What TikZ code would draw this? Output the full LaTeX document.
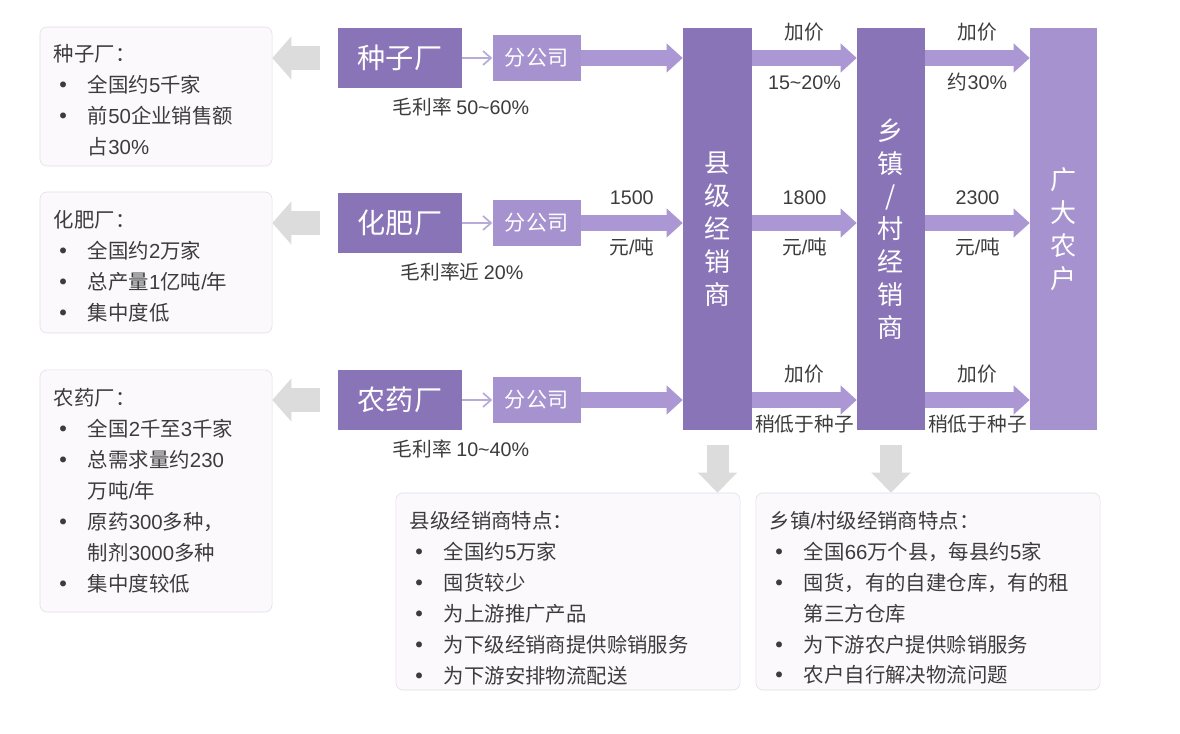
\documentclass[tikz,border=0pt]{standalone}
\usepackage{fontspec}
\setmainfont{Noto Sans CJK SC}
\newfontfamily\latf{Liberation Sans}
\newfontfamily\bulf{DejaVu Sans}
\usepackage{xcolor}
\usepackage{tikz}
\usetikzlibrary{arrows.meta,positioning,calc}
\definecolor{dlpurple}{HTML}{8A74B8}
\definecolor{dllight}{HTML}{A692CF}
\definecolor{dlarrow}{HTML}{AA97D3}
\definecolor{dlthin}{HTML}{B8ABD9}
\definecolor{dlgray}{HTML}{DCDCDC}
\definecolor{dlfill}{HTML}{FBF9FC}
\definecolor{dlline}{HTML}{E2DEE6}
\definecolor{dltext}{HTML}{3C3C3C}
\newcommand{\dg}[1]{{\latf #1}}
\newcommand{\bul}{\makebox[0.85cm][l]{\hspace*{0.08cm}{\bulf •}}}
\newcommand{\cnt}{\hspace*{0.85cm}}
\newcommand{\tstrut}[1]{\rule{0pt}{#1}}
\tikzset{
  dlfactory/.style={fill=dlpurple,text=white,minimum width=3.1cm,minimum height=1.5cm,
    font=\fontsize{20}{24}\selectfont},
  dlbranch/.style={fill=dllight,text=white,minimum width=2.2cm,minimum height=1.125cm,
    font=\fontsize{15}{18}\selectfont},
  dlbar/.style={fill=dlpurple,text=white,minimum height=10.05cm,align=center,
    font=\fontsize{18.5}{23.4}\selectfont},
  dlinfo/.style={draw=dlline,fill=dlfill,rounded corners=5pt,align=left,inner xsep=0.35cm,
    text=dltext,font=\fontsize{14.5}{22}\selectfont},
  dllab/.style={text=dltext,inner sep=0pt,outer sep=0pt,text height=11pt,text depth=2pt,
    font=\fontsize{14}{16}\selectfont},
  dlflow/.style={draw=dlarrow,line width=0.4cm,-{Triangle[length=0.4cm,width=0.7cm]}},
  dlthinarr/.style={draw=dlthin,line width=1.2pt,-{Straight Barb[length=2mm,width=3.5mm]}},
  dlback/.style={draw=dlgray,line width=0.6cm,-{Triangle[length=0.475cm,width=1.05cm]}},
  dldown/.style={draw=dlgray,line width=0.55cm,-{Triangle[length=0.5cm,width=0.95cm]}},
}
\begin{document}
\begin{tikzpicture}[x=0.025cm,y=-0.025cm,node distance=0.75cm]
\useasboundingbox[fill=white] (0,0) rectangle (1180,734);
\node[dlinfo,minimum height=3.475cm,text width=5.1cm] (info1) at (156,96.5)
  {\tstrut{0.6cm}种子厂：\\\bul 全国约\dg{5}千家\\\bul 前\dg{50}企业销售额\\\cnt 占\dg{30\%}};
\node[dlinfo,minimum height=3.525cm,text width=5.1cm] (info2) at (156,262.5)
  {\tstrut{0.6cm}化肥厂：\\\bul 全国约\dg{2}万家\\\bul 总产量\dg{1}亿吨\dg{/}年\\\bul 集中度低};
\node[dlinfo,minimum height=6.05cm,text width=5.1cm] (info3) at (156,491)
  {农药厂：\\\bul 全国\dg{2}千至\dg{3}千家\\\bul 总需求量约\dg{230}\\\cnt 万吨\dg{/}年\\\bul 原药\dg{300}多种，\\\cnt 制剂\dg{3000}多种\\\bul 集中度较低};
\node[dlfactory] (zhong) at (400,58) {种子厂};
\node[dlfactory] (fei) at (400,223) {化肥厂};
\node[dlfactory] (yao) at (400,400) {农药厂};
\node[dlbranch,right=of zhong] (fen1) {分公司};
\node[dlbranch,right=of fei] (fen2) {分公司};
\node[dlbranch,right=of yao] (fen3) {分公司};
\node[dllab] (mao1) at (461,108) {毛利率 \dg{50\textasciitilde60\%}};
\node[dllab] (mao2) at (462,273) {毛利率近 \dg{20\%}};
\node[dllab] (mao3) at (461,450) {毛利率 \dg{10\textasciitilde40\%}};
\node[dlbar,minimum width=1.725cm] (xian) at (717.5,229) {县\\级\\经\\销\\商};
\node[dlbar,minimum width=1.7cm] (xiang) at (891,229) {乡\\镇\\/\\村\\经\\销\\商};
\node[dlbar,fill=dllight,minimum width=1.675cm] (nong) at (1063.5,229) {广\\大\\农\\户};
\node[dlinfo,minimum height=4.925cm,text width=7.9cm] (tese1) at (568,591.5)
  {\tstrut{0.75cm}县级经销商特点：\\\bul 全国约\dg{5}万家\\\bul 囤货较少\\\bul 为上游推广产品\\\bul 为下级经销商提供赊销服务\\\bul 为下游安排物流配送};
\node[dlinfo,minimum height=4.925cm,text width=7.9cm] (tese2) at (928,591.5)
  {\tstrut{0.75cm}乡镇\dg{/}村级经销商特点：\\\bul 全国\dg{66}万个县，每县约\dg{5}家\\\bul 囤货，有的自建仓库，有的租\\\cnt 第三方仓库\\\bul 为下游农户提供赊销服务\\\bul 农户自行解决物流问题};
\draw[dlback] ([xshift=-0.45cm]zhong.west) -- (zhong.west -| info1.east);
\draw[dlback] ([xshift=-0.45cm]fei.west) -- (fei.west -| info2.east);
\draw[dlback] ([xshift=-0.45cm]yao.west) -- (yao.west -| info3.east);
\draw[dlthinarr] (zhong) -- (fen1);
\draw[dlthinarr] (fei) -- (fen2);
\draw[dlthinarr] (yao) -- (fen3);
\draw[dlflow] (fen1) -- (fen1 -| xian.west);
\draw[dlflow] (fen2) -- node[dllab,above=0.4cm] (p1500) {\dg{1500}}
  node[dllab,below=0.4cm] (u1500) {元\dg{/}吨} (fen2 -| xian.west);
\draw[dlflow] (fen3) -- (fen3 -| xian.west);
\draw[dlflow] (fen1 -| xian.east) -- node[dllab,above=0.4cm] (j1) {加价}
  node[dllab,below=0.4cm] (r1) {\dg{15\textasciitilde20\%}} (fen1 -| xiang.west);
\draw[dlflow] (fen2 -| xian.east) -- node[dllab,above=0.4cm] (p1800) {\dg{1800}}
  node[dllab,below=0.4cm] (u1800) {元\dg{/}吨} (fen2 -| xiang.west);
\draw[dlflow] (fen3 -| xian.east) -- node[dllab,above=0.4cm] (j2) {加价}
  node[dllab,below=0.4cm] (r2) {稍低于种子} (fen3 -| xiang.west);
\draw[dlflow] (fen1 -| xiang.east) -- node[dllab,above=0.4cm] (j3) {加价}
  node[dllab,below=0.4cm] (r3) {约\dg{30\%}} (fen1 -| nong.west);
\draw[dlflow] (fen2 -| xiang.east) -- node[dllab,above=0.4cm] (p2300) {\dg{2300}}
  node[dllab,below=0.4cm] (u2300) {元\dg{/}吨} (fen2 -| nong.west);
\draw[dlflow] (fen3 -| xiang.east) -- node[dllab,above=0.4cm] (j4) {加价}
  node[dllab,below=0.4cm] (r4) {稍低于种子} (fen3 -| nong.west);
\draw[dldown] ([yshift=-0.375cm]xian.south) -- (xian.south |- tese1.north);
\draw[dldown] ([yshift=-0.375cm]xiang.south) -- (xiang.south |- tese2.north);
\end{tikzpicture}
\end{document}
